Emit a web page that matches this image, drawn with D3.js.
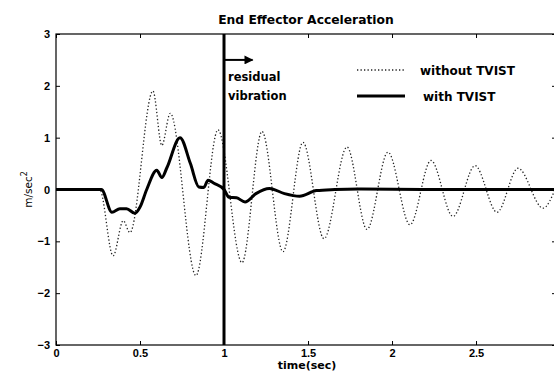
<!DOCTYPE html>
<html>
<head>
<meta charset="utf-8">
<script src="https://cdn.jsdelivr.net/npm/d3@7/dist/d3.min.js"></script>
<style>
    body { margin: 0; background: #fff; }
    svg { display: block; font-family: 'DejaVu Sans', sans-serif; }
    .chart-title, .chart-tick text, .chart-legend text, .chart-note, .chart-xlabel { font-weight: bold; }
    .chart-tick text { font-size: 11px; }
    .chart-tick line { stroke: #000; stroke-width: 1; }
    .chart-tick path { display: none; }
</style>
</head>
<body>
<svg class="chart-svg"></svg>
<script>
// time (sec) / acceleration (m/sec^2)
const withoutTime = [0, 0.26, 0.34, 0.40, 0.44, 0.577, 0.63, 0.68, 0.833, 0.964, 1.107, 1.226, 1.351, 1.47, 1.595, 1.732, 1.851, 1.976, 2.107, 2.232, 2.363, 2.494, 2.625, 2.75, 2.899, 2.976];
const withoutAccel = [0, 0, -1.28, -0.6, -0.83, 1.9, 0.85, 1.47, -1.66, 1.15, -1.41, 1.12, -1.2, 0.91, -0.95, 0.82, -0.77, 0.72, -0.68, 0.56, -0.52, 0.46, -0.44, 0.41, -0.36, 0.05];

const withTime = [0, 0.27, 0.333, 0.38, 0.42, 0.47, 0.50, 0.54, 0.60, 0.63, 0.66, 0.738, 0.80, 0.85, 0.88, 0.905, 0.94, 1.0, 1.03, 1.075, 1.125, 1.19, 1.27, 1.36, 1.45, 1.55, 1.66, 1.8, 2.2, 2.6, 2.976];
const withAccel = [0, 0, -0.44, -0.37, -0.37, -0.46, -0.34, 0, 0.37, 0.23, 0.42, 1.0, 0.5, 0.05, 0.04, 0.18, 0.12, 0, -0.15, -0.16, -0.24, -0.08, 0.02, -0.08, -0.13, -0.02, 0, 0.01, 0, 0, 0];

const xTicks = [0, 0.5, 1, 1.5, 2, 2.5];
const yTicks = [-3, -2, -1, 0, 1, 2, 3];
const xDomain = [0, 2.976];
const yDomain = [-3, 3];

const legendLabels = ['without TVIST', 'with TVIST'];

const ui = { width: 554, height: 371, left: 56, right: 556, top: 34, bottom: 345 };

const svg = d3.select('.chart-svg').attr('width', ui.width).attr('height', ui.height);

const x = d3.scaleLinear().domain(xDomain).range([ui.left, ui.right]);
const y = d3.scaleLinear().domain(yDomain).range([ui.bottom, ui.top]);

/**
 * Axes box with inward ticks on all four sides
 */
function drawAxes() {
    svg.append('rect')
        .attr('x', ui.left).attr('y', ui.top)
        .attr('width', ui.right - ui.left).attr('height', ui.bottom - ui.top)
        .attr('fill', 'none').attr('stroke', '#000').attr('stroke-width', 1.2);

    svg.append('g').attr('class', 'chart-tick')
        .attr('transform', `translate(0,${ui.bottom})`)
        .call(d3.axisBottom(x).tickValues(xTicks).tickSize(-4).tickPadding(4.5).tickFormat(d3.format('~g')));
    svg.append('g').attr('class', 'chart-tick')
        .attr('transform', `translate(0,${ui.top})`)
        .call(d3.axisTop(x).tickValues(xTicks).tickSize(-4).tickFormat(''));
    svg.append('g').attr('class', 'chart-tick')
        .attr('transform', `translate(${ui.left},0)`)
        .call(d3.axisLeft(y).tickValues(yTicks).tickSize(-4).tickPadding(6).tickFormat(d3.format('~g')));
    svg.append('g').attr('class', 'chart-tick')
        .attr('transform', `translate(${ui.right},0)`)
        .call(d3.axisRight(y).tickValues(yTicks).tickSize(-4).tickFormat(''));

    svg.selectAll('.chart-tick text').attr('fill', '#000');
}

/**
 * Both response curves
 */
function drawCurves() {
    const line = d3.line()
        .x(d => x(d[0]))
        .y(d => y(d[1]))
        .curve(d3.curveMonotoneX);

    svg.append('path')
        .datum(d3.zip(withoutTime, withoutAccel))
        .attr('d', line)
        .attr('fill', 'none')
        .attr('stroke', '#222')
        .attr('stroke-width', 1.3)
        .attr('stroke-dasharray', '1.3,2.2');

    svg.append('path')
        .datum(d3.zip(withTime, withAccel))
        .attr('d', line)
        .attr('fill', 'none')
        .attr('stroke', '#000')
        .attr('stroke-width', 3)
        .attr('stroke-linejoin', 'round');
}

/**
 * Residual vibration marker at t = 1 sec
 */
function drawMarker() {
    svg.append('defs').append('marker')
        .attr('id', 'arrow-head')
        .attr('viewBox', '0 0 10 10')
        .attr('refX', 9).attr('refY', 5)
        .attr('markerWidth', 5).attr('markerHeight', 4.5)
        .attr('orient', 'auto')
        .append('path').attr('d', 'M0,0L10,5L0,10Z').attr('fill', '#000');

    svg.append('line')
        .attr('x1', x(1)).attr('x2', x(1))
        .attr('y1', y(3)).attr('y2', y(-3))
        .attr('stroke', '#000').attr('stroke-width', 3);

    svg.append('line')
        .attr('x1', x(1)).attr('x2', x(1.17))
        .attr('y1', y(2.5)).attr('y2', y(2.5))
        .attr('stroke', '#000').attr('stroke-width', 2)
        .attr('marker-end', 'url(#arrow-head)');

    svg.selectAll('text.chart-note')
        .data(['residual', 'vibration'])
        .enter()
        .append('text')
        .attr('class', 'chart-note')
        .attr('x', x(1) + 4)
        .attr('y', (d, i) => y(2.1) + i * 19)
        .attr('font-size', 11.5)
        .text(d => d);
}

/**
 * Legend in the upper right
 */
function drawLegend() {
    const g = svg.append('g').attr('class', 'chart-legend');
    legendLabels.forEach((label, i) => {
        const ly = 70 + i * 26;
        g.append('line')
            .attr('x1', 357).attr('x2', 405)
            .attr('y1', ly).attr('y2', ly)
            .attr('stroke', i === 0 ? '#222' : '#000')
            .attr('stroke-width', i === 0 ? 1.3 : 3)
            .attr('stroke-dasharray', i === 0 ? '1.3,2.2' : null);
        g.append('text')
            .attr('x', i === 0 ? 420 : 423)
            .attr('y', ly + 4.5)
            .attr('font-size', 12)
            .text(label);
    });
}

/**
 * Title and axis labels
 */
function drawLabels() {
    svg.append('text')
        .attr('class', 'chart-title')
        .attr('x', 306).attr('y', 24)
        .attr('text-anchor', 'middle')
        .attr('font-size', 12.3)
        .text('End Effector Acceleration');

    svg.append('text')
        .attr('class', 'chart-xlabel')
        .attr('x', 307).attr('y', 369)
        .attr('text-anchor', 'middle')
        .attr('font-size', 11)
        .text('time(sec)');

    const yl = svg.append('text')
        .attr('transform', `translate(32,${(ui.top + ui.bottom) / 2}) rotate(-90)`)
        .attr('text-anchor', 'middle')
        .attr('font-size', 10.5);
    yl.append('tspan').text('m/sec');
    yl.append('tspan').attr('dy', -5).attr('font-size', 8).text('2');
}

drawAxes();
drawCurves();
drawMarker();
drawLegend();
drawLabels();
</script>
</body>
</html>
